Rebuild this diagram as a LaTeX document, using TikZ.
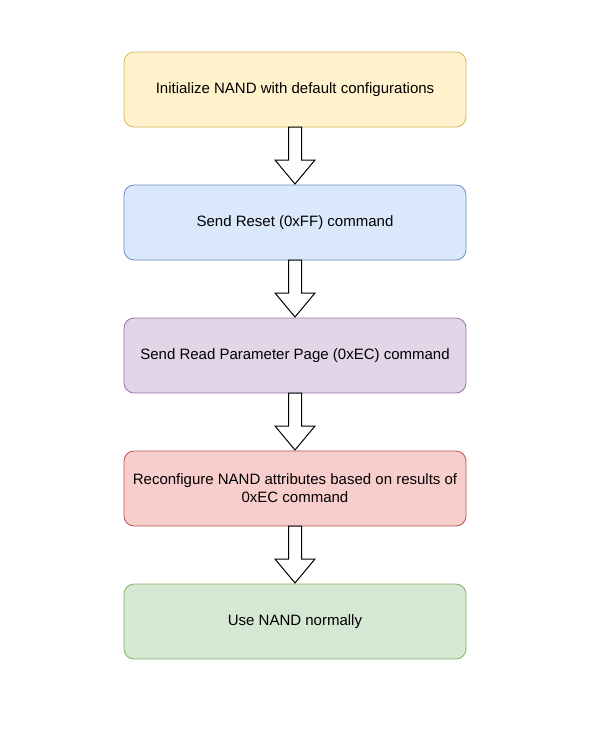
\documentclass[tikz,border=0pt]{standalone}
\usepackage{fontspec}
\setmainfont{Liberation Sans}
\usetikzlibrary{positioning,calc}

\definecolor{yelfill}{HTML}{FFF2CC}\definecolor{yeldraw}{HTML}{D6B656}
\definecolor{bluefill}{HTML}{DAE8FC}\definecolor{bluedraw}{HTML}{6C8EBF}
\definecolor{purpfill}{HTML}{E1D5E7}\definecolor{purpdraw}{HTML}{9673A6}
\definecolor{redfill}{HTML}{F8CECC}\definecolor{reddraw}{HTML}{B85450}
\definecolor{grnfill}{HTML}{D5E8D4}\definecolor{grndraw}{HTML}{82B366}

% hollow block arrow from the bottom of one box to the top of the next
\newcommand{\blockarrow}[2]{%
    \draw[fat]  ($(#1.south)+(-6.5pt,0)$) -- ($(#2.north)+(-6.5pt,25pt)$)
                -- ($(#2.north)+(-20pt,25pt)$) -- ($(#2.north)+(0,1pt)$)
                -- ($(#2.north)+(20pt,25pt)$) -- ($(#2.north)+(6.5pt,25pt)$)
                -- ($(#1.south)+(6.5pt,0)$) -- cycle;}

\begin{document}
\begin{tikzpicture}[
                stepbox/.style={rectangle, rounded corners=10pt, line width=0.8pt,
                    minimum width=342pt, minimum height=75pt, align=center, outer sep=0pt,
                    font=\fontsize{15pt}{18pt}\selectfont},
                fat/.style={draw=black, fill=white, line width=1pt, line join=miter},
                node distance=58pt
            ]

            \useasboundingbox (0,0) rectangle (597pt,-745pt);

            %boxes
            \node[stepbox, fill=yelfill, draw=yeldraw]   (init)     at (295pt,-89.5pt) {Initialize NAND with default configurations};
            \node[stepbox, fill=bluefill, draw=bluedraw] (reset)    [below=of init]    {Send Reset (0xFF) command};
            \node[stepbox, fill=purpfill, draw=purpdraw] (param)    [below=of reset]   {Send Read Parameter Page (0xEC) command};
            \node[stepbox, fill=redfill, draw=reddraw]   (reconfig) [below=of param]   {Reconfigure NAND attributes based on results of\\0xEC command};
            \node[stepbox, fill=grnfill, draw=grndraw]   (use)      [below=of reconfig] {Use NAND normally};

            %arrows
            \blockarrow{init}{reset}
            \blockarrow{reset}{param}
            \blockarrow{param}{reconfig}
            \blockarrow{reconfig}{use}

\end{tikzpicture}
\end{document}
